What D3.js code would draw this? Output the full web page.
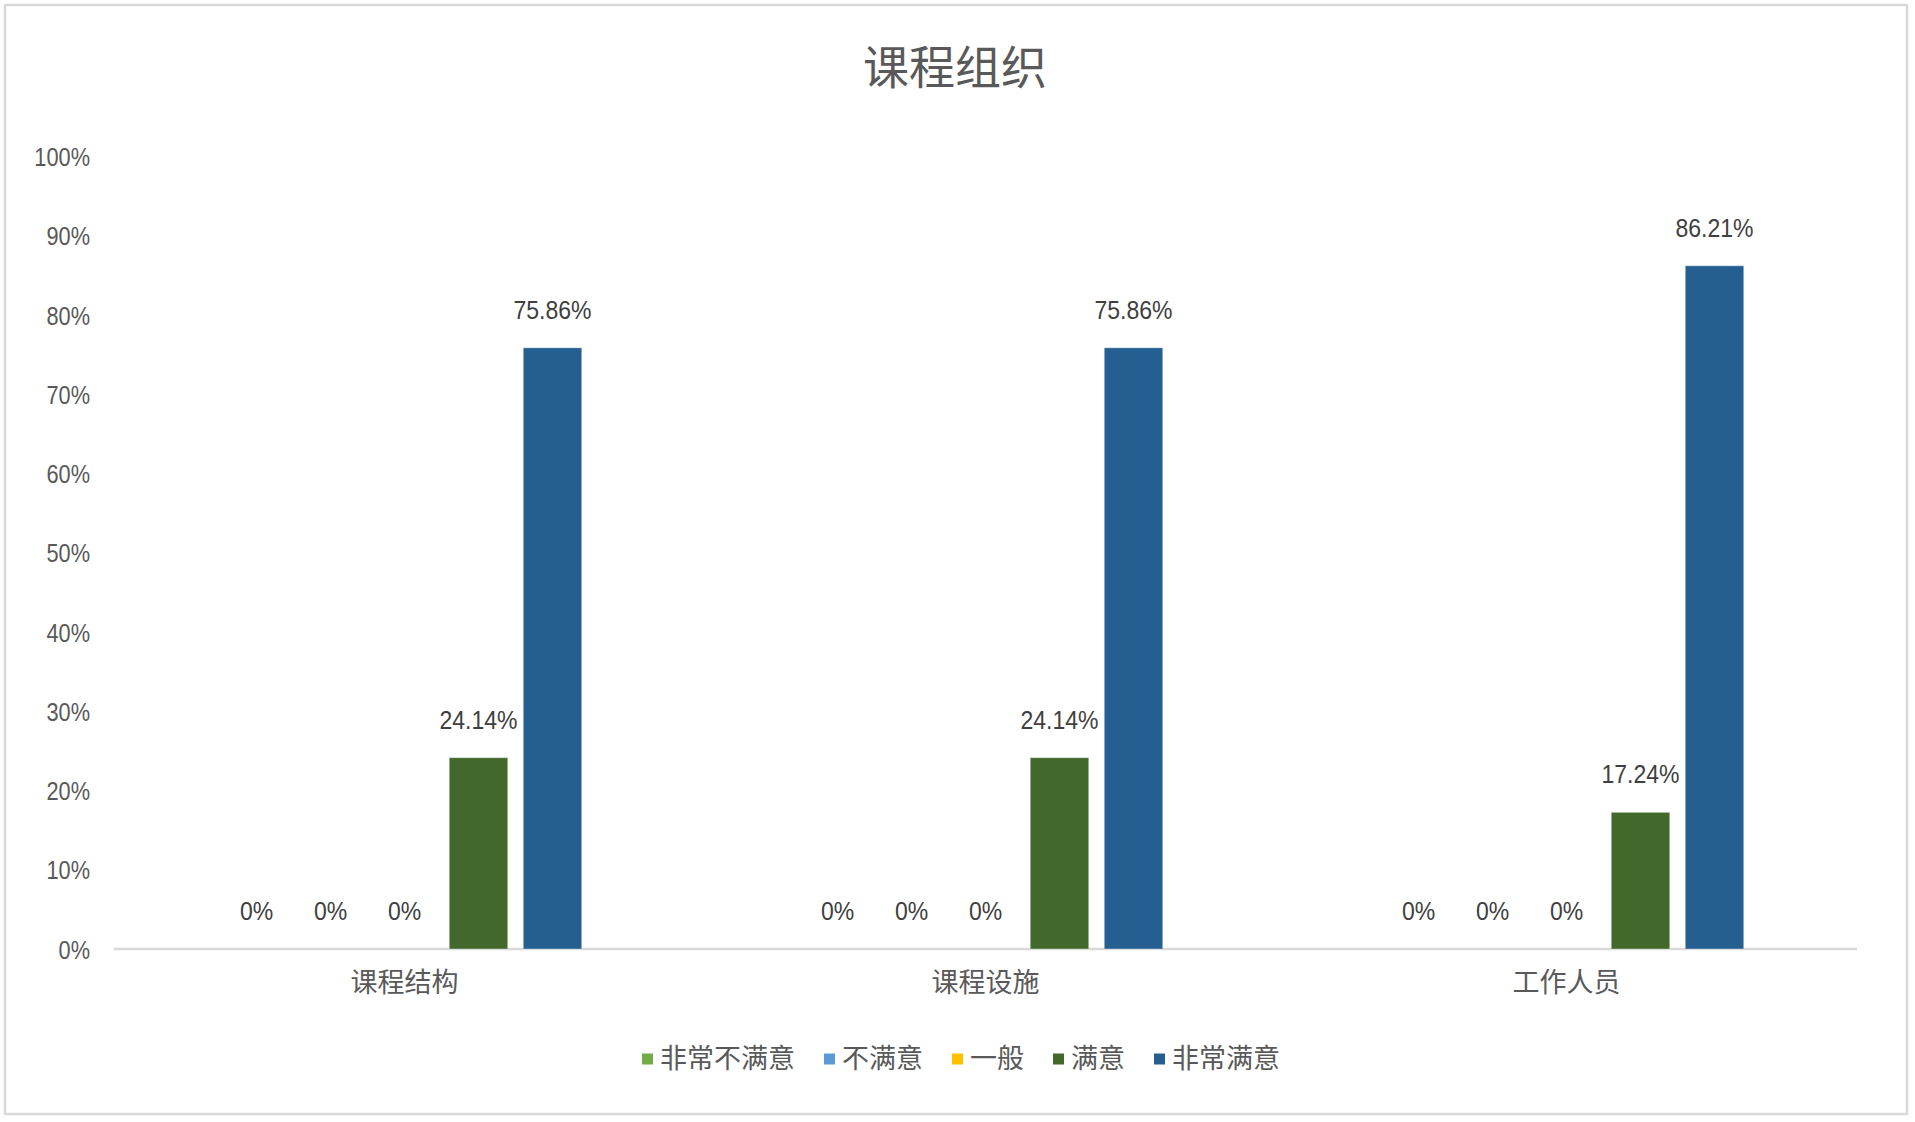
<!DOCTYPE html>
<html>
<head>
<meta charset="utf-8">
<script src="https://cdn.jsdelivr.net/npm/d3@7"></script>
<style>
  body { margin: 0; background: #fff; }
  svg text { font-family: "Liberation Sans", "Noto Sans CJK SC", sans-serif; }
</style>
</head>
<body>
<svg id="chart" width="1915" height="1122"></svg>
<script>
// --- data
const categories = ['课程结构', '课程设施', '工作人员']
const seriesNames = ['非常不满意', '不满意', '一般', '满意', '非常满意']
const veryDissatisfied = [0, 0, 0]
const dissatisfied = [0, 0, 0]
const neutral = [0, 0, 0]
const satisfied = [0.2414, 0.2414, 0.1724]
const verySatisfied = [0.7586, 0.7586, 0.8621]
const yTicks = [0, 0.1, 0.2, 0.3, 0.4, 0.5, 0.6, 0.7, 0.8, 0.9, 1]
const colors = ['#70ad47', '#5b9bd5', '#ffc000', '#43682b', '#255e91']

const seriesValues = [veryDissatisfied, dissatisfied, neutral, satisfied, verySatisfied]

const svg = d3.select('#chart')

// the reference digits are a bit narrower than Liberation Sans, squeeze them
const condense = (sel, k) => sel.each(function () {
  const w = this.getComputedTextLength()
  d3.select(this).attr('textLength', w * k).attr('lengthAdjust', 'spacingAndGlyphs')
})

// outer chart border
svg.append('rect')
  .attr('x', 5).attr('y', 5)
  .attr('width', 1902).attr('height', 1109)
  .attr('fill', '#fff')
  .attr('stroke', '#d9d9d9')
  .attr('stroke-width', 2.5)

svg.append('text')
  .attr('x', 955).attr('y', 68)
  .attr('text-anchor', 'middle')
  .attr('dominant-baseline', 'central')
  .attr('fill', '#595959')
  .style('font-size', '46px')
  .text('课程组织')

// --- scales
const x = d3.scaleBand().domain(categories).range([114, 1857])
const y = d3.scaleLinear().domain([0, 1]).range([949, 156.5])
const inner = d3.scaleBand()
  .domain(seriesNames)
  .range([-185, 185])
  .paddingInner(0.21)
  .paddingOuter(0.105)

// y axis labels only, no line, no grid
const yAxis = svg.append('g')
  .attr('transform', 'translate(90,0)')
  .call(d3.axisLeft(y).tickValues(yTicks).tickFormat(d3.format('.0%')).tickSize(0).tickPadding(0))
yAxis.select('.domain').remove()
yAxis.selectAll('text')
  .attr('fill', '#595959')
  .attr('dy', null)
  .attr('dominant-baseline', 'central')
  .style('font-size', '25px')
  .call(condense, 0.87)

// category axis
svg.append('line')
  .attr('x1', x.range()[0]).attr('x2', x.range()[1])
  .attr('y1', y(0)).attr('y2', y(0))
  .attr('stroke', '#d9d9d9')
  .attr('stroke-width', 2.5)

svg.append('g')
  .selectAll('text')
  .data(categories)
  .join('text')
  .attr('x', d => x(d) + x.bandwidth() / 2)
  .attr('y', 983)
  .attr('text-anchor', 'middle')
  .attr('dominant-baseline', 'central')
  .attr('fill', '#595959')
  .style('font-size', '27px')
  .text(d => d)

// --- bars and data labels
const rows = []
seriesNames.forEach((s, si) => {
  categories.forEach((c, ci) => {
    rows.push({series: s, category: c, value: seriesValues[si][ci], color: colors[si]})
  })
})

const cx = d => x(d.category) + x.bandwidth() / 2 + inner(d.series)

svg.append('g')
  .selectAll('rect')
  .data(rows.filter(d => d.value > 0))
  .join('rect')
  .attr('x', cx)
  .attr('y', d => y(d.value))
  .attr('width', inner.bandwidth())
  .attr('height', d => y(0) - y(d.value))
  .attr('fill', d => d.color)
  .attr('stroke', 'rgba(255,255,255,0.35)')
  .attr('stroke-width', 1)

const pct = d3.format('.2%')
svg.append('g')
  .selectAll('text')
  .data(rows)
  .join('text')
  .attr('x', d => cx(d) + inner.bandwidth() / 2)
  .attr('y', d => y(d.value) - 38)
  .attr('text-anchor', 'middle')
  .attr('dominant-baseline', 'central')
  .attr('fill', '#404040')
  .style('font-size', '25px')
  .text(d => d.value === 0 ? '0%' : pct(d.value))
  .call(condense, 0.92)

// --- legend, laid out from the measured text widths
const legend = svg.append('g')
const items = legend.selectAll('g')
  .data(seriesNames)
  .join('g')
items.append('rect')
  .attr('width', 11).attr('height', 11)
  .attr('y', -5.5)
  .attr('fill', (d, i) => colors[i])
items.append('text')
  .attr('x', 18)
  .attr('dominant-baseline', 'central')
  .attr('fill', '#595959')
  .style('font-size', '27px')
  .text(d => d)

let offset = 0
items.each(function () {
  const w = d3.select(this).select('text').node().getComputedTextLength()
  d3.select(this).attr('transform', `translate(${offset},0)`)
  offset += 18 + w + 29
})
const legendWidth = offset - 29
legend.attr('transform', `translate(${961 - legendWidth / 2},1059)`)
</script>
</body>
</html>
